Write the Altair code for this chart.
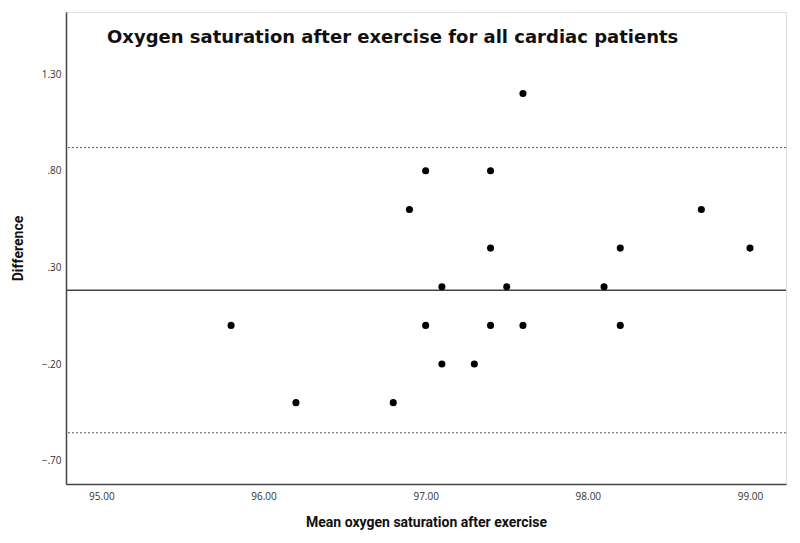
import altair as alt
import pandas as pd

# Bland-Altman data
mean_sat = [95.8, 96.2, 96.8, 96.9, 97.0, 97.0, 97.1, 97.1, 97.3, 97.4,
            97.4, 97.4, 97.5, 97.6, 97.6, 98.1, 98.2, 98.2, 98.7, 99.0]
difference = [0.0, -0.4, -0.4, 0.6, 0.8, 0.0, 0.2, -0.2, -0.2, 0.8,
              0.4, 0.0, 0.2, 1.2, 0.0, 0.2, 0.4, 0.0, 0.6, 0.4]

mean_diff = [0.182]
limits = [0.920, -0.556]

x_ticks = [95, 96, 97, 98, 99]
y_ticks = [1.3, 0.8, 0.3, -0.2, -0.7]

pts = pd.DataFrame({"m": mean_sat, "d": difference})
mean_df = pd.DataFrame({"d": mean_diff})
lim_df = pd.DataFrame({"d": limits})

x_scale = alt.Scale(domain=[94.782, 99.222], nice=False, zero=False)
y_scale = alt.Scale(domain=[-0.821, 1.622], nice=False, zero=False)

x_axis = alt.Axis(
    title="Mean oxygen saturation after exercise",
    values=x_ticks, format=".2f", grid=False, ticks=False,
    labelFont="Open Sans", labelFontSize=10, labelColor="#333", labelPadding=7,
    titleFont="Roboto", titleFontSize=14, titleFontWeight="bold", titleColor="#111",
    titleY=38, titleBaseline="middle",
    domainColor="#444", domainWidth=1.5,
)
y_axis = alt.Axis(
    title="Difference",
    values=y_ticks, grid=False, ticks=False,
    labelExpr="replace(format(datum.value, '.2f'), '0.', '.')",
    labelFont="Open Sans", labelFontSize=10, labelColor="#333", labelPadding=5,
    titleFont="Roboto", titleFontSize=14, titleFontWeight="bold", titleColor="#111",
    titleX=-48, titleY=236, titleAngle=-90, titleBaseline="middle", titleAlign="center",
    domainColor="#444", domainWidth=1.5,
)

points = alt.Chart(pts).mark_circle(size=50, color="black", opacity=1).encode(
    x=alt.X("m:Q", scale=x_scale, axis=x_axis),
    y=alt.Y("d:Q", scale=y_scale, axis=y_axis),
)

mean_rule = alt.Chart(mean_df).mark_rule(color="#444", strokeWidth=1.5).encode(
    y=alt.Y("d:Q", scale=y_scale)
)
lim_rule = alt.Chart(lim_df).mark_rule(color="#555", strokeWidth=1, strokeDash=[2, 2]).encode(
    y=alt.Y("d:Q", scale=y_scale)
)

chart = alt.layer(lim_rule, mean_rule, points).properties(
    width=720,
    height=472,
    padding={"left": 58, "top": 4, "right": 6, "bottom": 50},
    autosize=alt.AutoSizeParams(type="none"),
    title=alt.TitleParams(
        "Oxygen saturation after exercise for all cardiac patients",
        anchor="start", frame="group", dx=41, dy=49, offset=0,
        baseline="alphabetic",
        font="DejaVu Sans", fontSize=18, fontWeight="bold", color="#111",
    ),
).configure_view(stroke=None).configure(background="white")

chart.save("out.html", embed_options={"renderer": "svg", "actions": False})
